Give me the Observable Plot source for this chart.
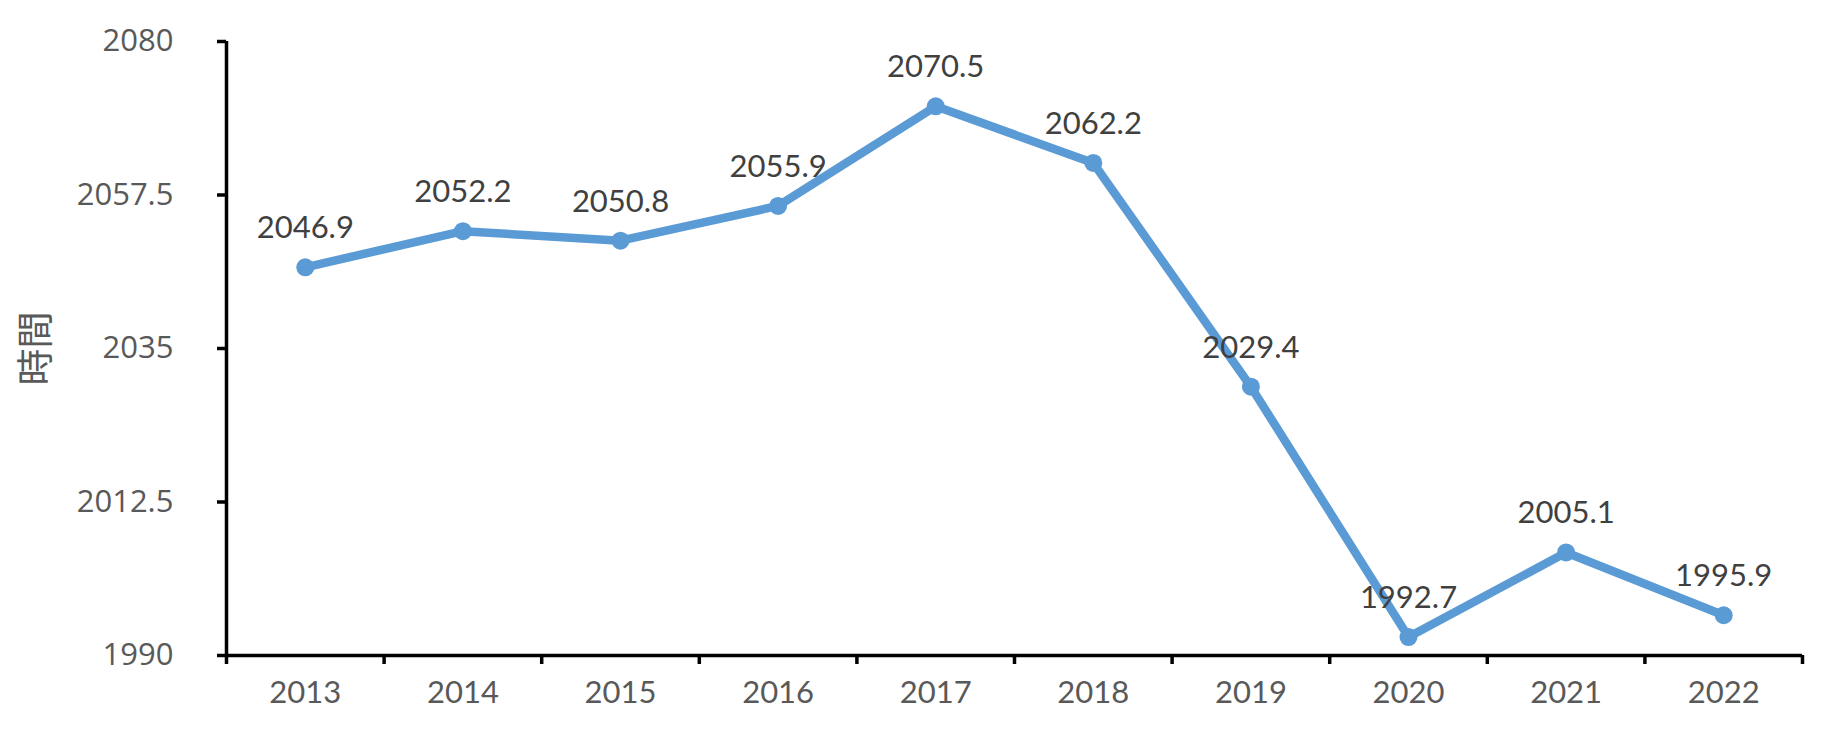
<!DOCTYPE html>
<html>
<head>
<meta charset="utf-8">
<script src="https://cdn.jsdelivr.net/npm/d3@7"></script>
<script src="https://cdn.jsdelivr.net/npm/@observablehq/plot@0.6"></script>
<style>
  html, body { margin: 0; padding: 0; background: #ffffff; }
</style>
</head>
<body>
<div id="chart"></div>
<script>
const years = [2013, 2014, 2015, 2016, 2017, 2018, 2019, 2020, 2021, 2022];
const values = [2046.9, 2052.2, 2050.8, 2055.9, 2070.5, 2062.2, 2029.4, 1992.7, 2005.1, 1995.9];
const yTicks = [1990, 2012.5, 2035, 2057.5, 2080];
const yLabel = "時間";

const data = years.map((year, i) => ({year, value: values[i]}));
const xDomain = [years[0] - 0.5, years[years.length - 1] + 0.5];
const yDomain = [yTicks[0], yTicks[yTicks.length - 1]];
const boundaries = years.map(y => y - 0.5).concat([years[years.length - 1] + 0.5]);

const blue = "#5B9BD5";

const chart = Plot.plot({
  width: 1824,
  height: 736,
  marginTop: 41,
  marginBottom: 81,
  marginLeft: 226,
  marginRight: 22,
  style: {background: "#ffffff", overflow: "visible"},
  x: {type: "linear", domain: xDomain},
  y: {type: "linear", domain: yDomain},
  marks: [
    Plot.axisY({
      ticks: yTicks,
      tickSize: 9,
      tickPadding: 44,
      tickFormat: d => String(d),
      stroke: "#000000",
      strokeWidth: 3.5,
      fill: "#595959",
      fontSize: 31,
      fontFamily: "'Open Sans', sans-serif",
      label: null
    }),
    Plot.axisX({
      ticks: boundaries,
      tickSize: 9,
      tickFormat: () => "",
      stroke: "#000000",
      strokeWidth: 3.5,
      label: null
    }),
    Plot.axisX({
      ticks: years,
      tickSize: 0,
      tickPadding: 25,
      tickFormat: d => String(d),
      fill: "#595959",
      fontSize: 31,
      fontFamily: "Lato, sans-serif",
      label: null
    }),
    Plot.ruleY([yDomain[0]], {stroke: "#000000", strokeWidth: 3.5}),
    Plot.ruleX([xDomain[0]], {stroke: "#000000", strokeWidth: 3.5}),
    Plot.text([yLabel], {
      frameAnchor: "left",
      textAnchor: "middle",
      lineAnchor: "middle",
      rotate: -90,
      dx: -189,
      fontSize: 37,
      fontFamily: "'Noto Sans CJK TC', sans-serif",
      fill: "#595959"
    }),
    Plot.line(data, {x: "year", y: "value", stroke: blue, strokeWidth: 8.5, strokeLinejoin: "round", strokeLinecap: "round"}),
    Plot.dot(data, {x: "year", y: "value", r: 9, fill: blue, stroke: "none"}),
    Plot.text(data, {
      x: "year",
      y: "value",
      text: d => d.value.toFixed(1),
      dy: -39,
      fontSize: 31,
      fontFamily: "Lato, sans-serif",
      fill: "#404040"
    })
  ]
});
document.getElementById("chart").appendChild(chart);
</script>
</body>
</html>
